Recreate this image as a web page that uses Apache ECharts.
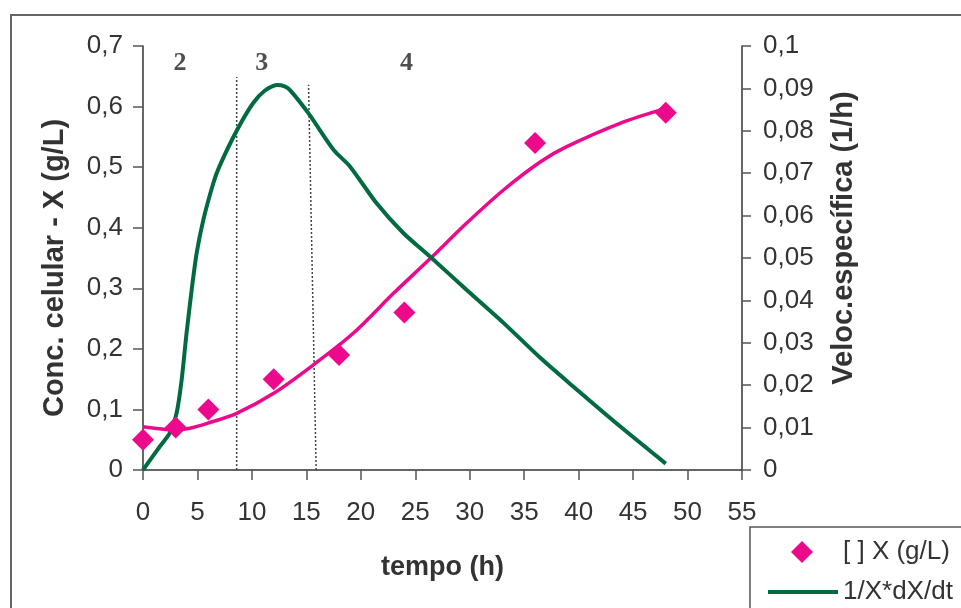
<!DOCTYPE html>
<html>
<head>
<meta charset="utf-8">
<script src="https://cdn.jsdelivr.net/npm/echarts@6/dist/echarts.min.js"></script>
<style>
html,body{margin:0;padding:0;background:#fff;}
#chart{width:961px;height:608px;}
</style>
</head>
<body>
<div id="chart"></div>
<script>
// Measured data: cell concentration X (g/L) vs time (h)
const timeX = [0, 3, 6, 12, 18, 24, 36, 48];
const concX = [0.05, 0.07, 0.10, 0.15, 0.19, 0.26, 0.54, 0.59];

// Fitted concentration curve (pink line)
const fitT = [0, 1.5, 2.8, 4.3, 5.9, 8.6, 12, 15.6, 19.3, 23, 26.4, 29.7, 33.1, 36.5, 38.9, 43.8, 48];
const fitX = [0.0715, 0.068, 0.066, 0.069, 0.077, 0.0936, 0.1266, 0.173, 0.2257, 0.2917, 0.3495, 0.4073, 0.4623, 0.509, 0.5338, 0.5724, 0.597];

// Specific growth rate 1/X*dX/dt (green line, right axis)
const muT = [0, 1.56, 2.48, 3.09, 3.55, 4.0, 4.47, 4.93, 5.54, 6.46, 7.0, 8.6, 10.1, 11.2, 12.3, 13.0, 13.5, 15.2, 17.5, 19.0, 21.45, 23.9, 26.5, 29.7, 33.1, 36.5, 39.5, 43.8, 48];
const muV = [0, 0.0056, 0.0088, 0.0135, 0.0213, 0.0323, 0.0425, 0.0512, 0.059, 0.0677, 0.0715, 0.080, 0.0865, 0.0895, 0.0908, 0.0905, 0.0896, 0.0841, 0.0755, 0.0716, 0.0629, 0.0559, 0.050, 0.0425, 0.0347, 0.0264, 0.0197, 0.0103, 0.0015];

// Phase separators (dotted lines) and phase labels
const sep1 = [[8.6, 0], [8.6, 0.649]];
const sep2 = [[15.9, 0], [15.2, 0.636]];
const phaseNames = ['2', '3', '4'];
const phaseT = [3.4, 10.9, 24.2];
const phaseY = [0.672, 0.672, 0.672];

const xTicksMax = 55;
const seriesNames = ['[ ] X (g/L)', '1/X*dX/dt'];

const PINK = '#EC098C';
const GREEN = '#006B40';
const TXT = '#333333';
const FONT = 'Liberation Sans, Arial, sans-serif';

const fmt = v => String(v).replace('.', ',');

const chart = echarts.init(document.getElementById('chart'));
chart.setOption({
  animation: false,
  backgroundColor: '#fff',
  textStyle: { fontFamily: FONT, color: TXT },
  grid: { left: 143, right: 219, top: 46, bottom: 138 },
  legend: [
    {
      data: [{ name: seriesNames[0], icon: 'diamond' }],
      left: 791, top: 539,
      itemWidth: 22, itemHeight: 22, padding: 0,
      textStyle: { fontSize: 26, color: TXT, fontFamily: FONT, padding: [0, 0, 0, 25] }
    },
    {
      data: [{ name: seriesNames[1], icon: 'rect' }],
      left: 768, top: 579,
      itemWidth: 70, itemHeight: 4, padding: 0,
      textStyle: { fontSize: 26, color: TXT, fontFamily: FONT }
    }
  ],
  xAxis: {
    type: 'value', min: 0, max: xTicksMax, interval: 5,
    name: 'tempo (h)', nameLocation: 'middle', nameGap: 84,
    nameTextStyle: { fontSize: 27, fontWeight: 'bold', color: TXT },
    axisLine: { lineStyle: { color: '#333', width: 1.5 } },
    axisTick: { show: true, inside: false, length: 10, lineStyle: { color: '#555', width: 1.5 } },
    axisLabel: { fontSize: 26, color: TXT, margin: 30, formatter: fmt },
    splitLine: { show: false }
  },
  yAxis: [
    {
      type: 'value', min: 0, max: 0.7, interval: 0.1, position: 'left',
      name: 'Conc. celular - X (g/L)', nameLocation: 'middle', nameGap: 74, nameRotate: 90,
      nameTextStyle: { fontSize: 29, fontWeight: 'bold', color: TXT, padding: [0, 20, 0, 0] },
      axisLine: { show: true, lineStyle: { color: '#333', width: 1.5 } },
      axisTick: { show: true, inside: false, length: 10, lineStyle: { color: '#555', width: 1.5 } },
      axisLabel: { fontSize: 26, color: TXT, margin: 20, formatter: fmt },
      splitLine: { show: false }
    },
    {
      type: 'value', min: 0, max: 0.1, interval: 0.01, position: 'right',
      name: 'Veloc.específica (1/h)', nameLocation: 'middle', nameGap: 87, nameRotate: 90,
      nameTextStyle: { fontSize: 29, fontWeight: 'bold', color: TXT, padding: [0, 0, 0, 40] },
      axisLine: { show: true, lineStyle: { color: '#333', width: 1.5 } },
      axisTick: { show: true, inside: false, length: 9, lineStyle: { color: '#555', width: 1.5 } },
      axisLabel: { fontSize: 26, color: TXT, margin: 21, formatter: fmt },
      splitLine: { show: false }
    }
  ],
  series: [
    {
      name: 'sep1', type: 'line', data: sep1, symbol: 'none', silent: true,
      lineStyle: { color: '#444', width: 1.5, type: [2, 2] }, z: 1
    },
    {
      name: 'sep2', type: 'line', data: sep2, symbol: 'none', silent: true,
      lineStyle: { color: '#444', width: 1.5, type: [2, 2] }, z: 1
    },
    {
      name: 'fit', type: 'line', smooth: 0.3, symbol: 'none',
      data: fitT.map((t, i) => [t, fitX[i]]),
      lineStyle: { color: PINK, width: 3.5 }, z: 2
    },
    {
      name: seriesNames[1], type: 'line', smooth: 0.25, symbol: 'none', yAxisIndex: 1,
      data: muT.map((t, i) => [t, muV[i]]),
      itemStyle: { color: GREEN },
      lineStyle: { color: GREEN, width: 4 }, z: 3
    },
    {
      name: seriesNames[0], type: 'scatter', symbol: 'diamond', symbolSize: 22,
      data: timeX.map((t, i) => [t, concX[i]]),
      itemStyle: { color: PINK, opacity: 1 }, z: 4
    },
    {
      name: 'phases', type: 'scatter', symbolSize: 0, silent: true,
      data: phaseT.map((t, i) => ({ name: phaseNames[i], value: [t, phaseY[i]] })),
      label: {
        show: true, position: 'inside', formatter: p => p.name,
        fontFamily: 'Liberation Serif, Times New Roman, serif', fontWeight: 'bold', fontSize: 26, color: '#222'
      }, z: 5
    }
  ],
  graphic: [
    { type: 'rect', shape: { x: 11, y: 15, width: 1200, height: 800 }, style: { fill: null, stroke: '#666', lineWidth: 2 }, silent: true, z: -1 },
    { type: 'rect', shape: { x: 750, y: 527, width: 400, height: 300 }, style: { fill: null, stroke: '#555', lineWidth: 1.5 }, silent: true }
  ]
});
</script>
</body>
</html>
